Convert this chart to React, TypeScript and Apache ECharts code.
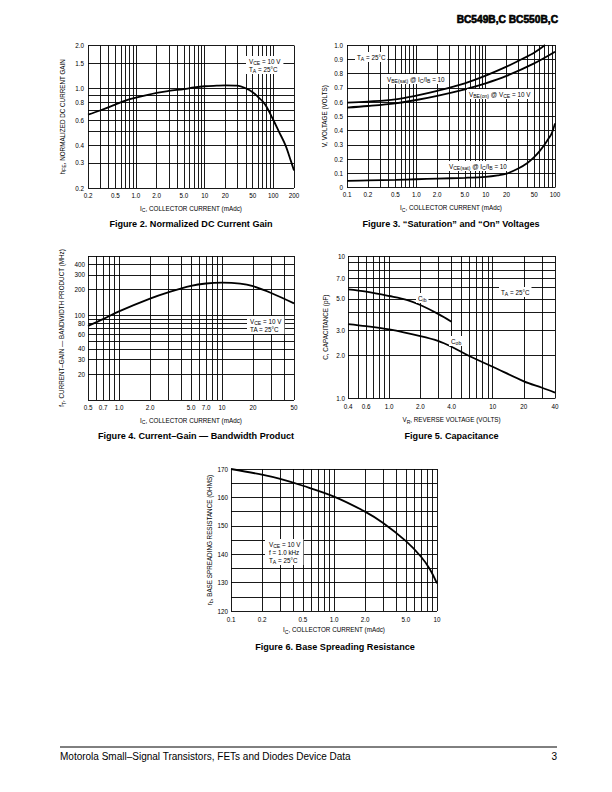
import React, { useEffect, useRef } from 'react';
import * as echarts from 'echarts';

const F = "'Liberation Sans', Arial, Helvetica, sans-serif";
const TICK_FS = 6.3;

// ---------- Figure 2: Normalized DC current gain ----------
const fig2Ic = [0.2, 0.3, 0.5, 0.7, 1, 2, 3, 5, 7, 10, 15, 20, 30, 40, 50, 60, 70, 80, 100, 120, 150, 180, 200];
const fig2Hfe = [0.655, 0.7, 0.77, 0.82, 0.86, 0.93, 0.96, 0.99, 1.015, 1.035, 1.045, 1.05, 1.045, 1.0, 0.94, 0.87, 0.81, 0.74, 0.6, 0.5, 0.4, 0.31, 0.265];
const fig2XGrid = [0.2, 0.3, 0.4, 0.5, 0.6, 0.7, 0.8, 0.9, 1, 2, 3, 4, 5, 6, 7, 8, 9, 10, 20, 30, 40, 50, 60, 70, 80, 90, 100, 200];
const fig2YGrid = [0.2, 0.3, 0.4, 0.5, 0.6, 0.7, 0.8, 0.9, 1.0, 1.5, 2.0];
const fig2XTickVals = [0.2, 0.5, 1, 2, 5, 10, 20, 50, 100, 200];
const fig2XTickLabels = ['0.2', '0.5', '1.0', '2.0', '5.0', '10', '20', '50', '100', '200'];
const fig2YTickVals = [0.2, 0.3, 0.4, 0.6, 0.8, 1.0, 1.5, 2.0];
const fig2YTickLabels = ['0.2', '0.3', '0.4', '0.6', '0.8', '1.0', '1.5', '2.0'];

// ---------- Figure 3: Saturation and On voltages ----------
const fig3IcBeSat = [0.1, 0.2, 0.5, 1, 2, 5, 10, 20, 30, 50, 72];
const fig3VbeSat = [0.595, 0.603, 0.619, 0.645, 0.678, 0.731, 0.785, 0.848, 0.89, 0.946, 1.0];
const fig3IcBeOn = [0.1, 0.2, 0.5, 1, 2, 5, 10, 20, 50, 100];
const fig3VbeOn = [0.561, 0.572, 0.591, 0.614, 0.643, 0.689, 0.731, 0.783, 0.871, 0.953];
const fig3IcCeSat = [0.1, 0.2, 0.5, 1, 2, 5, 10, 15, 20, 30, 40, 50, 60, 70, 80, 90, 100];
const fig3VceSat = [0.047, 0.05, 0.054, 0.058, 0.062, 0.068, 0.075, 0.085, 0.097, 0.135, 0.172, 0.213, 0.255, 0.298, 0.34, 0.382, 0.45];
const fig3XGrid = [0.1, 0.2, 0.3, 0.4, 0.5, 0.6, 0.7, 0.8, 0.9, 1, 2, 3, 4, 5, 6, 7, 8, 9, 10, 20, 30, 40, 50, 60, 70, 80, 90, 100];
const fig3XTickVals = [0.1, 0.2, 0.5, 1, 2, 5, 10, 20, 50, 100];
const fig3XTickLabels = ['0.1', '0.2', '0.5', '1.0', '2.0', '5.0', '10', '20', '50', '100'];

// ---------- Figure 4: Current-gain bandwidth product ----------
const fig4Ic = [0.5, 0.7, 1, 2, 3, 5, 7, 10, 15, 20, 30, 50];
const fig4Ft = [75, 90, 111, 157, 186, 222, 237, 242, 236, 220, 183, 138];
const fig4XGrid = [0.5, 0.6, 0.7, 0.8, 0.9, 1, 2, 3, 4, 5, 6, 7, 8, 9, 10, 20, 30, 40, 50];
const fig4YGrid = [10, 20, 30, 40, 50, 60, 70, 80, 90, 100, 200, 300, 400, 500];
const fig4XTickVals = [0.5, 0.7, 1, 2, 5, 7, 10, 20, 50];
const fig4XTickLabels = ['0.5', '0.7', '1.0', '2.0', '5.0', '7.0', '10', '20', '50'];
const fig4YTickVals = [20, 30, 40, 60, 80, 100, 200, 300, 400];
const fig4YTickLabels = ['20', '30', '40', '60', '80', '100', '200', '300', '400'];

// ---------- Figure 5: Capacitance ----------
const fig5VrCib = [0.4, 0.6, 1, 1.5, 2, 3, 4];
const fig5Cib = [5.83, 5.62, 5.24, 4.91, 4.53, 3.91, 3.46];
const fig5VrCob = [0.4, 0.6, 1, 2, 3, 4, 6, 10, 20, 30, 40];
const fig5Cob = [3.33, 3.22, 3.05, 2.74, 2.53, 2.31, 1.98, 1.67, 1.32, 1.19, 1.1];
const fig5XGrid = [0.4, 0.5, 0.6, 0.7, 0.8, 0.9, 1, 2, 3, 4, 5, 6, 7, 8, 9, 10, 20, 30, 40];
const fig5YGrid = [1, 2, 3, 4, 5, 6, 7, 8, 9, 10];
const fig5XTickVals = [0.4, 0.6, 1, 2, 4, 10, 20, 40];
const fig5XTickLabels = ['0.4', '0.6', '1.0', '2.0', '4.0', '10', '20', '40'];
const fig5YTickVals = [1, 2, 3, 5, 7, 10];
const fig5YTickLabels = ['1.0', '2.0', '3.0', '5.0', '7.0', '10'];

// ---------- Figure 6: Base spreading resistance ----------
const fig6Ic = [0.1, 0.2, 0.3, 0.5, 1, 2, 3, 5, 7, 8.5, 10];
const fig6Rb = [170, 168, 166.5, 164.1, 160.3, 155, 151, 144.6, 139.1, 134.8, 129.7];
const fig6XGrid = [0.1, 0.2, 0.3, 0.4, 0.5, 0.6, 0.7, 0.8, 0.9, 1, 2, 3, 4, 5, 6, 7, 8, 9, 10];
const fig6XTickVals = [0.1, 0.2, 0.5, 1, 2, 5, 10];
const fig6XTickLabels = ['0.1', '0.2', '0.5', '1.0', '2.0', '5.0', '10'];

const nameRich = {
  n: { fontSize: 6.3, fontFamily: F, color: '#000', lineHeight: 9 },
  s: { fontSize: 5.1, fontFamily: F, color: '#000', lineHeight: 5.6, verticalAlign: 'bottom' },
};
const noteRich = {
  n: { fontSize: 6.3, fontFamily: F, fill: '#000', lineHeight: 8 },
  s: { fontSize: 5.1, fontFamily: F, fill: '#000', lineHeight: 5.4, verticalAlign: 'bottom' },
};
const nameStyle = { color: '#000', fontFamily: F, fontSize: 6.3, rich: nameRich };

function labelFor(vals: number[], labels: string[], v: number) {
  const i = vals.findIndex((t) => Math.abs(t - v) < 1e-9);
  return i >= 0 ? labels[i] : '';
}

function gridLines(
  xs: number[], xTV: number[], xTL: string[], xDist: number,
  ys: number[], yTV: number[], yTL: string[], yDist: number
) {
  const data: any[] = [];
  xs.forEach((v) => {
    const t = labelFor(xTV, xTL, v);
    data.push({ xAxis: v, name: t, label: { show: t !== '', distance: xDist } });
  });
  ys.forEach((v) => {
    const t = labelFor(yTV, yTL, v);
    data.push({ yAxis: v, name: t, label: { show: t !== '', distance: yDist } });
  });
  return {
    silent: true,
    z: 1,
    symbol: ['none', 'none'],
    precision: 3,
    animation: false,
    lineStyle: { color: '#000', width: 0.9, type: 'solid', opacity: 1 },
    emphasis: { disabled: true },
    label: { show: true, position: 'start', formatter: '{b}', color: '#000', fontSize: TICK_FS, fontFamily: F },
    data,
  };
}

function curve(i: number, xs: number[], ys: number[], extra: any = {}) {
  return {
    type: 'line',
    xAxisIndex: i,
    yAxisIndex: i,
    data: xs.map((x, k) => [x, ys[k]]),
    smooth: 0.35,
    symbol: 'none',
    showSymbol: false,
    silent: true,
    z: 10,
    lineStyle: { color: '#000', width: 1.8 },
    emphasis: { disabled: true },
    ...extra,
  };
}

function logAxis(i: number, min: number, max: number, name: string, gap: number, vertical = false) {
  return {
    gridIndex: i,
    type: 'log',
    logBase: 10,
    min,
    max,
    axisLine: { show: false, onZero: false },
    axisTick: { show: false },
    axisLabel: { show: false },
    splitLine: { show: false },
    name,
    nameLocation: 'middle',
    nameGap: gap,
    nameTextStyle: nameStyle,
    ...(vertical ? { nameRotate: 90 } : {}),
  };
}

function note(x: number, y: number, text: string, extra: any = {}) {
  return {
    type: 'text',
    x,
    y,
    z: 100,
    silent: true,
    style: {
      text,
      rich: noteRich,
      fill: '#000',
      fontSize: 6.3,
      fontFamily: F,
      backgroundColor: '#fff',
      padding: [1, 2, 1, 2],
      align: 'left',
      verticalAlign: 'middle',
      textAlign: 'left',
      textVerticalAlign: 'middle',
      ...extra,
    },
  };
}

function plainText(x: number, y: number, text: string, style: any) {
  return {
    type: 'text',
    x,
    y,
    z: 100,
    silent: true,
    style: { text, fill: '#000', fontFamily: F, ...style },
  };
}

const IC_NAME = '{n|I}{s|C}{n|, COLLECTOR CURRENT (mAdc)}';

export default function App() {
  const ref = useRef<HTMLDivElement>(null);
  useEffect(() => {
    document.body.style.margin = '0';
    if (!ref.current) return;
    const chart = echarts.init(ref.current, undefined, { renderer: 'svg' });
    const captionStyle = { fontSize: 9.1, fontWeight: 'bold', align: 'center', textAlign: 'center', verticalAlign: 'middle', textVerticalAlign: 'middle' };
    const option: any = {
      animation: false,
      backgroundColor: '#fff',
      textStyle: { fontFamily: F },
      grid: [
        { left: 88, top: 45.5, width: 206, height: 142.5, outerBoundsMode: 'none' },
        { left: 347, top: 45, width: 208, height: 142.5, outerBoundsMode: 'none' },
        { left: 88, top: 256, width: 206, height: 144, outerBoundsMode: 'none' },
        { left: 348, top: 256, width: 207, height: 142.5, outerBoundsMode: 'none' },
        { left: 231, top: 469, width: 206, height: 142, outerBoundsMode: 'none' },
      ],
      xAxis: [
        logAxis(0, 0.2, 200, IC_NAME, 15.5),
        logAxis(1, 0.1, 100, IC_NAME, 15.5),
        logAxis(2, 0.5, 50, IC_NAME, 15.5),
        logAxis(3, 0.4, 40, '{n|V}{s|R}{n|, REVERSE VOLTAGE (VOLTS)}', 16.5),
        logAxis(4, 0.1, 10, IC_NAME, 14),
      ],
      yAxis: [
        logAxis(0, 0.2, 2.0, '{n|h}{s|FE}{n|, NORMALIZED DC CURRENT GAIN}', 21.5, true),
        {
          gridIndex: 1,
          type: 'value',
          min: 0,
          max: 1,
          interval: 0.1,
          axisLine: { show: false, onZero: false },
          axisTick: { show: false },
          splitLine: { show: true, lineStyle: { color: '#000', width: 0.9 } },
          axisLabel: {
            margin: 4,
            fontSize: TICK_FS,
            color: '#000',
            fontFamily: F,
            formatter: (v: number) => (Math.abs(v) < 1e-9 ? '0' : v.toFixed(1)),
          },
          name: '{n|V, VOLTAGE (VOLTS)}',
          nameLocation: 'middle',
          nameGap: 18.5,
          nameRotate: 90,
          nameTextStyle: nameStyle,
        },
        logAxis(2, 10, 500, '{n|f}{s|T}{n|, CURRENT–GAIN — BANDWIDTH PRODUCT (MHz)}', 22, true),
        logAxis(3, 1, 10, '{n|C, CAPACITANCE (pF)}', 18.5, true),
        {
          gridIndex: 4,
          type: 'value',
          min: 120,
          max: 170,
          interval: 5,
          axisLine: { show: false, onZero: false },
          axisTick: { show: false },
          splitLine: { show: true, lineStyle: { color: '#000', width: 0.9 } },
          axisLabel: {
            margin: 3,
            fontSize: TICK_FS,
            color: '#000',
            fontFamily: F,
            formatter: (v: number) => (Math.round(v) % 10 === 0 ? String(Math.round(v)) : ''),
          },
          name: '{n|r}{s|b}{n|, BASE SPREADING RESISTANCE (OHMS)}',
          nameLocation: 'middle',
          nameGap: 16.5,
          nameRotate: 90,
          nameTextStyle: nameStyle,
        },
      ],
      series: [
        curve(0, fig2Ic, fig2Hfe, {
          markLine: gridLines(fig2XGrid, fig2XTickVals, fig2XTickLabels, 4, fig2YGrid, fig2YTickVals, fig2YTickLabels, 4),
        }),
        curve(1, fig3IcBeSat, fig3VbeSat, {
          markLine: gridLines(fig3XGrid, fig3XTickVals, fig3XTickLabels, 4, [], [], [], 4),
        }),
        curve(1, fig3IcBeOn, fig3VbeOn),
        curve(1, fig3IcCeSat, fig3VceSat),
        curve(2, fig4Ic, fig4Ft, {
          markLine: gridLines(fig4XGrid, fig4XTickVals, fig4XTickLabels, 4, fig4YGrid, fig4YTickVals, fig4YTickLabels, 3),
        }),
        curve(3, fig5VrCib, fig5Cib, {
          markLine: gridLines(fig5XGrid, fig5XTickVals, fig5XTickLabels, 5, fig5YGrid, fig5YTickVals, fig5YTickLabels, 3),
        }),
        curve(3, fig5VrCob, fig5Cob),
        curve(4, fig6Ic, fig6Rb, {
          markLine: gridLines(fig6XGrid, fig6XTickVals, fig6XTickLabels, 5, [], [], [], 3),
        }),
      ],
      graphic: [
        plainText(558, 19, 'BC549B,C BC550B,C', {
          fontSize: 10.2,
          fontWeight: 'bold',
          align: 'right',
          textAlign: 'right',
          verticalAlign: 'middle',
          textVerticalAlign: 'middle',
          stroke: '#000',
          lineWidth: 0.6,
        }),
        plainText(191, 224, 'Figure 2. Normalized DC Current Gain', captionStyle),
        plainText(451, 224, 'Figure 3. “Saturation” and “On” Voltages', captionStyle),
        plainText(196, 436, 'Figure 4. Current–Gain — Bandwidth Product', captionStyle),
        plainText(451.5, 435.5, 'Figure 5. Capacitance', captionStyle),
        plainText(335, 646.5, 'Figure 6. Base Spreading Resistance', captionStyle),
        // Fig 2 note
        note(246, 56, '{n|V}{s|CE}{n| = 10 V}\n{n|T}{s|A}{n| = 25°C}', { verticalAlign: 'top', textVerticalAlign: 'top', padding: [1, 3, 1, 3] }),
        // Fig 3 notes
        note(355, 57, '{n|T}{s|A}{n| = 25°C}'),
        note(385, 79, '{n|V}{s|BE(sat)}{n| @ I}{s|C}{n|/I}{s|B}{n| = 10}'),
        note(467, 94, '{n|V}{s|BE(on)}{n| @ V}{s|CE}{n| = 10 V}'),
        note(447, 166, '{n|V}{s|CE(sat)}{n| @ I}{s|C}{n|/I}{s|B}{n| = 10}'),
        // Fig 4 note
        note(247, 316, '{n|V}{s|CE}{n| = 10 V}\n{n|TA = 25°C}', { verticalAlign: 'top', textVerticalAlign: 'top', padding: [1, 3, 1, 3] }),
        // Fig 5 notes
        note(499, 292, '{n|T}{s|A}{n| = 25°C}'),
        note(416, 298, '{n|C}{s|ib}'),
        note(449, 341, '{n|C}{s|ob}'),
        // Fig 6 note
        note(265, 539, '{n|V}{s|CE}{n| = 10 V}\n{n|f = 1.0 kHz}\n{n|T}{s|A}{n| = 25°C}', {
          verticalAlign: 'top',
          textVerticalAlign: 'top',
          padding: [1, 3, 1, 4],
        }),
        // footer
        {
          type: 'line',
          z: 100,
          silent: true,
          shape: { x1: 60, y1: 747, x2: 557, y2: 747 },
          style: { stroke: '#000', lineWidth: 1 },
        },
        plainText(60, 756, 'Motorola Small–Signal Transistors, FETs and Diodes Device Data', {
          fontSize: 10,
          align: 'left',
          textAlign: 'left',
          verticalAlign: 'middle',
          textVerticalAlign: 'middle',
        }),
        plainText(557, 756, '3', {
          fontSize: 10,
          align: 'right',
          textAlign: 'right',
          verticalAlign: 'middle',
          textVerticalAlign: 'middle',
        }),
      ],
    };
    chart.setOption(option);
    return () => chart.dispose();
  }, []);
  return <div ref={ref} style={{ position: 'absolute', left: 0, top: 0, width: 612, height: 792 }} />;
}
